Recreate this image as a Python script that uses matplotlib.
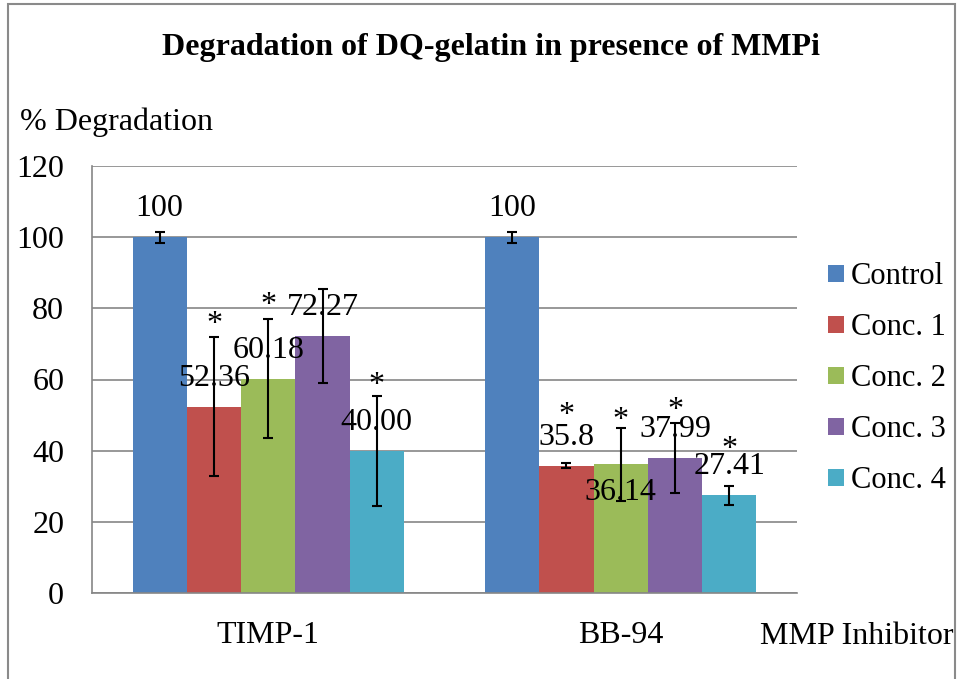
import numpy as np
import matplotlib.pyplot as plt
from matplotlib.patches import Rectangle

plt.rcParams['font.family'] = ['Liberation Serif', 'DejaVu Serif']

# datos
inhibitors = ["TIMP-1", "BB-94"]
series = ["Control", "Conc. 1", "Conc. 2", "Conc. 3", "Conc. 4"]
values = [[100, 100], [52.36, 35.8], [60.18, 36.14], [72.27, 37.99], [40.00, 27.41]]
errors = [[1.5, 1.5], [19.5, 0.8], [16.7, 10.3], [13.2, 9.8], [15.5, 2.8]]
value_text = [["100", "100"], ["52.36", "35.8"], ["60.18", "36.14"],
              ["72.27", "37.99"], ["40.00", "27.41"]]
# altura de los asteriscos (None = sin asterisco)
star_y = [[None, None], [78, 52.4], [83.3, 51], [None, 53.8], [60.8, 43]]
colors = ["#4F81BD", "#C0504D", "#9BBB59", "#8064A2", "#4BACC6"]

# desplazamiento vertical de las etiquetas (puntos)
label_dy = [[20.5, 20.5], [20.5, 20.5], [20.5, -20], [20.5, 20.5], [20.5, 20.5]]

fs = 23
fig = plt.figure(figsize=(9.61, 6.79), dpi=100)
ax = fig.add_axes([92/961, 1-593/679, (797-92)/961, (593-166)/679])

x = np.arange(len(inhibitors))
w = 0.154
grey = "#868686"
for i, s in enumerate(series):
    xs = x + (i - 2) * w
    ax.bar(xs, values[i], w, color=colors[i], label=s, zorder=2)
    ax.errorbar(xs, values[i], yerr=errors[i], fmt="none", ecolor="black",
                elinewidth=1.5, capsize=3.6, capthick=1.5, zorder=3)
    for j in range(len(inhibitors)):
        ax.annotate(value_text[i][j], (xs[j], values[i][j]), xytext=(0, label_dy[i][j]),
                    textcoords="offset points", ha="center", va="center",
                    fontsize=fs, zorder=4)
        if star_y[i][j] is not None:
            ax.annotate("*", (xs[j], star_y[i][j]), xytext=(0, -12),
                        textcoords="offset points", ha="center", va="baseline",
                        fontsize=fs, zorder=4)

ax.set_xlim(-0.5, 1.5)
ax.set_ylim(0, 120)
ax.set_yticks(np.arange(0, 121, 20))
ax.set_xticks(x)
ax.set_xticklabels(inhibitors)
ax.tick_params(axis="both", length=0, labelsize=fs)
ax.tick_params(axis="y", pad=20)
ax.tick_params(axis="x", pad=20)
ax.yaxis.grid(True, color=grey, linewidth=1.2, zorder=0)
ax.set_axisbelow(True)
for side in ["top", "right"]:
    ax.spines[side].set_visible(False)
for side in ["left", "bottom"]:
    ax.spines[side].set_color(grey)
    ax.spines[side].set_linewidth(1.2)

fig.text(491/961, 1-47/679, "Degradation of DQ-gelatin in presence of MMPi",
         ha="center", va="center", fontsize=fs, fontweight="bold")
fig.text(20/961, 1-122/679, "% Degradation", ha="left", va="center", fontsize=fs)
fig.text(857/961, 1-636/679, "MMP Inhibitor", ha="center", va="center", fontsize=fs)

ax.legend(loc="upper left", bbox_to_anchor=(813/961, 1-247/679),
          bbox_transform=fig.transFigure, frameon=False, fontsize=22,
          handlelength=0.5, handleheight=0.5, handletextpad=0.25,
          labelspacing=0.72, borderpad=0)

fig.add_artist(Rectangle((8/961, -0.02), (955-8)/961, 1-4/679+0.02,
                         transform=fig.transFigure, fill=False,
                         edgecolor="#8a8a8a", linewidth=1.5))

plt.savefig("out.png", dpi=100)
